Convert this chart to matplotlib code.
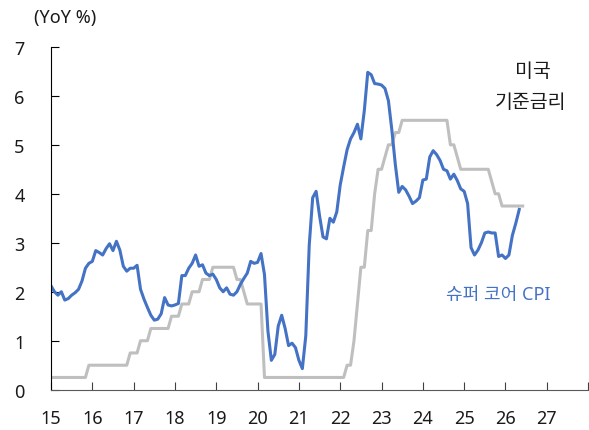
import numpy as np
import matplotlib
matplotlib.use('Agg')
import matplotlib.pyplot as plt

plt.rcParams['font.family'] = ['Noto Sans', 'Noto Sans CJK KR', 'DejaVu Sans']

# super core CPI (YoY %), monthly from Jan 2015
supercore = [
    2.12, 2.00, 1.93, 2.00, 1.83, 1.86, 1.93, 1.98, 2.05, 2.22, 2.48, 2.58,
    2.62, 2.84, 2.80, 2.75, 2.88, 2.98, 2.84, 3.03, 2.85, 2.52, 2.42, 2.48,
    2.48, 2.54, 2.05, 1.85, 1.68, 1.52, 1.42, 1.44, 1.55, 1.88, 1.73, 1.71,
    1.73, 1.76, 2.33, 2.33, 2.48, 2.58, 2.75, 2.52, 2.55, 2.38, 2.33, 2.36,
    2.25, 2.08, 2.00, 2.08, 1.95, 1.93, 2.00, 2.15, 2.27, 2.38, 2.62, 2.58,
    2.60, 2.78, 2.35, 1.20, 0.60, 0.72, 1.30, 1.52, 1.25, 0.90, 0.95, 0.86,
    0.60, 0.43, 1.10, 2.95, 3.92, 4.05, 3.55, 3.12, 3.08, 3.50, 3.42, 3.63,
    4.18, 4.55, 4.90, 5.12, 5.25, 5.42, 5.12, 5.70, 6.48, 6.43, 6.25, 6.24,
    6.22, 6.15, 5.90, 5.30, 4.60, 4.03, 4.15, 4.08, 3.95, 3.80, 3.85, 3.92,
    4.28, 4.30, 4.75, 4.88, 4.80, 4.68, 4.50, 4.47, 4.30, 4.40, 4.27, 4.10,
    4.05, 3.80, 2.90, 2.75, 2.85, 3.00, 3.20, 3.22, 3.20, 3.20, 2.72, 2.75,
    2.68, 2.75, 3.15, 3.40, 3.68,
]

# US policy rate (upper bound, month end), monthly from Jan 2015
fed_rate = (
    [0.25] * 11 + [0.50] * 12 + [0.75] * 3 + [1.00] * 3 + [1.25] * 6
    + [1.50] * 3 + [1.75] * 3 + [2.00] * 3 + [2.25] * 3 + [2.50] * 7
    + [2.25] * 2 + [2.00] * 1 + [1.75] * 5 + [0.25] * 24
    + [0.50] * 2 + [1.00] * 1 + [1.75] * 1 + [2.50] * 2 + [3.25] * 2
    + [4.00] * 1 + [4.50] * 2 + [4.75] * 1 + [5.00] * 2 + [5.25] * 2
    + [5.50] * 14 + [5.00] * 2 + [4.75] * 1 + [4.50] * 9 + [4.25] * 1
    + [4.00] * 2 + [3.75] * 7
)

x_cpi = 15 + np.arange(len(supercore)) / 12
x_fed = 15 + np.arange(len(fed_rate)) / 12

fig = plt.figure(figsize=(5.89, 4.31), dpi=100)
ax = fig.add_axes([0.0866, 0.0935, 0.9119, 0.7955])

ax.plot(x_fed, fed_rate, color='#BFBFBF', lw=2.2)
ax.plot(x_cpi, supercore, color='#4472C4', lw=2.2)

ax.set_xlim(15, 28)
ax.set_ylim(0, 7)
ax.set_xticks(range(15, 29))
ax.set_xticklabels([str(v) for v in range(15, 28)] + [''])
ax.set_yticks(range(0, 8))

ax.spines['top'].set_visible(False)
ax.spines['right'].set_visible(False)
ax.spines['left'].set_color('black')
ax.spines['bottom'].set_color('#595959')
ax.tick_params(axis='x', direction='in', length=6, pad=14, labelsize=13,
               color='#404040', labelcolor='#1a1a1a')
ax.tick_params(axis='y', direction='in', length=6, pad=19, labelsize=13,
               color='black', labelcolor='#1a1a1a')

# labels
fig.text(65 / 589, 1 - 18 / 431, '(YoY %)', fontsize=13, ha='center', va='center', color='#1a1a1a')
fig.text(533 / 589, 1 - 72 / 431, '미국', fontsize=14, ha='center', va='center', color='#1a1a1a')
fig.text(531 / 589, 1 - 103 / 431, '기준금리', fontsize=14, ha='center', va='center', color='#1a1a1a')
fig.text(498 / 589, 1 - 295 / 431, '슈퍼 코어 CPI', fontsize=13, ha='center', va='center', color='#4472C4')

fig.savefig('out.png', dpi=100)
